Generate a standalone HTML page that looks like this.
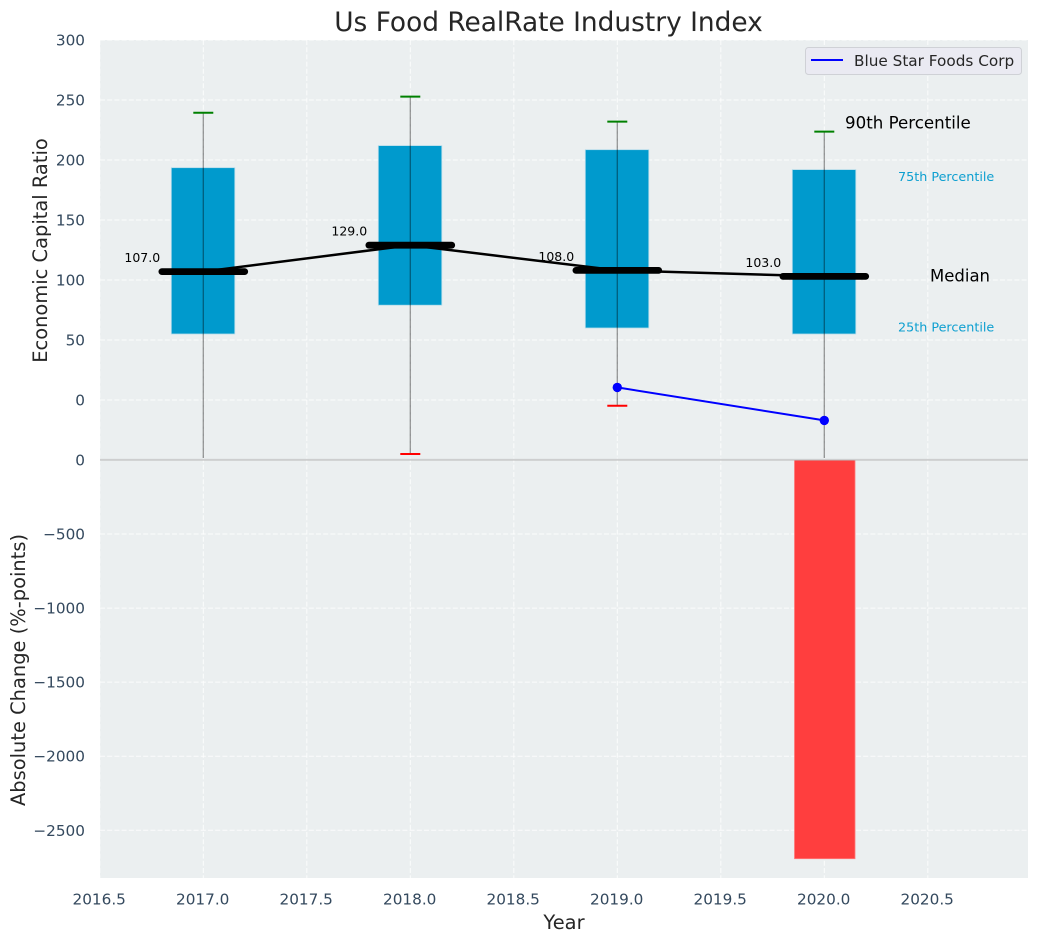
<!DOCTYPE html>
<html>
<head>
<meta charset="utf-8">
<title>Us Food RealRate Industry Index</title>
<style>
html,body{margin:0;padding:0;background:#fff;}
svg{display:block;font-family:"DejaVu Sans","Liberation Sans",sans-serif;}
</style>
</head>
<body>
<svg id="chart" xmlns="http://www.w3.org/2000/svg" width="1039" height="942" viewBox="0 0 1039 942">
  <defs>
    <clipPath id="top-clip"><rect x="100" y="40" width="928" height="418"></rect></clipPath>
  </defs>
  <rect x="100" y="40" width="928" height="420" fill="#ebeff0"></rect>
  <rect x="100" y="460" width="928" height="418" fill="#ebeff0"></rect>
  <g id="grid"></g>
  <g id="ticks"></g>
  <g id="marks"></g>
  <line x1="100" x2="1028" y1="459" y2="459" stroke="#e2e4e6" stroke-width="1"></line>
  <line x1="100" x2="1028" y1="460" y2="460" stroke="#b8b8b8" stroke-width="1"></line>
  <g id="notes"></g>
  <text x="548.5" y="31" text-anchor="middle" font-size="26.4" fill="#262626">Us Food RealRate Industry Index</text>
  <text x="564" y="929" text-anchor="middle" font-size="19.44" fill="#262626">Year</text>
  <text transform="translate(47 250.5) rotate(-90)" text-anchor="middle" font-size="19.44" fill="#262626">Economic Capital Ratio</text>
  <text transform="translate(25 670) rotate(-90)" text-anchor="middle" font-size="19.44" fill="#262626">Absolute Change (%-points)</text>
  <g>
    <rect x="805.5" y="47.5" width="216" height="27" rx="3" fill="#eaeaf2" stroke="#cfd1d6" stroke-width="1"></rect>
    <line x1="811" x2="843" y1="60" y2="60" stroke="#0000ff" stroke-width="2"></line>
    <text x="854" y="66" font-size="15.28" fill="#262626">Blue Star Foods Corp</text>
  </g>
</svg>
<script>
const years = [2017, 2018, 2019, 2020];
const p90 = [239.4, 252.8, 232, 223.6];
const p75 = [193.6, 212, 208.6, 192];
const median = [107, 129, 108, 103];
const p25 = [55, 79, 60, 55];
const p10 = [-60, -45, -4.8, -60];
const companyYears = [2019, 2020];
const companyValues = [10.5, -17];
const changeYears = [2020];
const changeValues = [-2692];
const xTicks = [2016.5, 2017, 2017.5, 2018, 2018.5, 2019, 2019.5, 2020, 2020.5];
const topYTicks = [300, 250, 200, 150, 100, 50, 0];
const bottomYTicks = [0, -500, -1000, -1500, -2000, -2500];

const NS = 'http://www.w3.org/2000/svg';
const xPos = function (v) { return 203.3 + (v - 2017) * 207; };
const yTop = function (v) { return 400 - v * 1.2; };
const yBottom = function (v) { return 460 - v * 0.1481; };
const gridG = document.getElementById('grid');
const ticksG = document.getElementById('ticks');
const marksG = document.getElementById('marks');
const notesG = document.getElementById('notes');

function make(parent, tag, attrs, text) {
  const el = document.createElementNS(NS, tag);
  for (const k in attrs) { el.setAttribute(k, attrs[k]); }
  if (text !== undefined) { el.textContent = text; }
  parent.appendChild(el);
  return el;
}
const gridStyle = { stroke: '#ffffff', 'stroke-opacity': 0.8, 'stroke-width': 1, 'stroke-dasharray': '5 2.2', fill: 'none' };
const tickColor = '#34495e';

xTicks.forEach(function (t) {
  const gl = make(gridG, 'line', Object.assign({ x1: xPos(t), x2: xPos(t), y1: 40, y2: 878 }, gridStyle));
  
  
  const lb = make(ticksG, 'text', { x: xPos(t) - 0.6, y: 904.5, 'text-anchor': 'middle', 'font-size': 15.28, fill: tickColor }, t.toFixed(1));
  
  
});
topYTicks.forEach(function (t) {
  const gl = make(gridG, 'line', Object.assign({ x1: 100, x2: 1028, y1: yTop(t), y2: yTop(t) }, gridStyle));
  
  
  const lb = make(ticksG, 'text', { x: 85, y: yTop(t) + 5.5, 'text-anchor': 'end', 'font-size': 15.28, fill: tickColor }, String(t));
  
  
});
bottomYTicks.forEach(function (t) {
  const gl = make(gridG, 'line', Object.assign({ x1: 100, x2: 1028, y1: yBottom(t), y2: yBottom(t) }, gridStyle));
  
  
  const label = t < 0 ? '\u2212' + Math.abs(t) : String(t);
  const lb = make(ticksG, 'text', { x: 85, y: yBottom(t) + 5.5, 'text-anchor': 'end', 'font-size': 15.28, fill: tickColor }, label);
  
  
});

const clipG = make(marksG, 'g', { 'clip-path': 'url(#top-clip)' });



years.forEach(function (yr, i) {
  const x = xPos(yr);
  const box = make(clipG, 'rect', {
    x: x - 32, y: yTop(p75[i]), width: 63.5, height: yTop(p25[i]) - yTop(p75[i]),
    fill: '#009acd', stroke: '#b5dcea', 'stroke-width': 0.8
  });
  
  
  const w = make(clipG, 'line', {
    x1: x, x2: x, y1: yTop(p90[i]), y2: yTop(p10[i]),
    stroke: '#000000', 'stroke-opacity': 0.4, 'stroke-width': 1.3
  });
  
  
  const hi = make(clipG, 'line', { x1: x - 10, x2: x + 10, y1: yTop(p90[i]), y2: yTop(p90[i]), stroke: '#008000', 'stroke-width': 2 });
  
  
  const lo = make(clipG, 'line', { x1: x - 10, x2: x + 10, y1: yTop(p10[i]), y2: yTop(p10[i]), stroke: '#ff0000', 'stroke-width': 2 });
  
  
});

const medianLine = make(clipG, 'polyline', {
  points: years.map(function (yr, i) { return xPos(yr) + ',' + yTop(median[i]); }).join(' '),
  fill: 'none', stroke: '#000000', 'stroke-width': 2.5
});



years.forEach(function (yr, i) {
  const x = xPos(yr);
  const m = make(clipG, 'line', {
    x1: x - 41.4, x2: x + 41.4, y1: yTop(median[i]), y2: yTop(median[i]),
    stroke: '#000000', 'stroke-width': 6.8, 'stroke-linecap': 'round'
  });
  
  
  const t = make(notesG, 'text', {
    x: x - 61, y: yTop(median[i]) - 9.5, 'text-anchor': 'middle', 'font-size': 12.5, fill: '#000000'
  }, median[i].toFixed(1));
  
  
});

const companyLine = make(clipG, 'polyline', {
  points: companyYears.map(function (yr, i) { return xPos(yr) + ',' + yTop(companyValues[i]); }).join(' '),
  fill: 'none', stroke: '#0000ff', 'stroke-width': 2
});


companyYears.forEach(function (yr, i) {
  const c = make(clipG, 'circle', { cx: xPos(yr), cy: yTop(companyValues[i]), r: 4.7, fill: '#0000ff' });
  
  
});

changeYears.forEach(function (yr, i) {
  const x = xPos(yr);
  const b = make(marksG, 'rect', {
    x: x - 29.8, y: yBottom(0), width: 60.5, height: yBottom(changeValues[i]) - yBottom(0),
    fill: '#ff3e3e', stroke: '#ff7a7a', 'stroke-width': 0.8
  });
  
  
});

const last = years.length - 1;
const n90 = make(notesG, 'text', { x: 845, y: yTop(p90[last]) - 3, 'font-size': 16.67, fill: '#000000' }, '90th Percentile');


const n75 = make(notesG, 'text', { x: 898, y: yTop(p75[last]) + 11.5, 'font-size': 12.75, fill: '#0d9fd0' }, '75th Percentile');


const nMed = make(notesG, 'text', { x: 930, y: yTop(median[last]) + 5, 'font-size': 16.5, fill: '#000000' }, 'Median');


const n25 = make(notesG, 'text', { x: 898, y: yTop(p25[last]) - 2.5, 'font-size': 12.75, fill: '#0d9fd0' }, '25th Percentile');


</script>
</body>
</html>
